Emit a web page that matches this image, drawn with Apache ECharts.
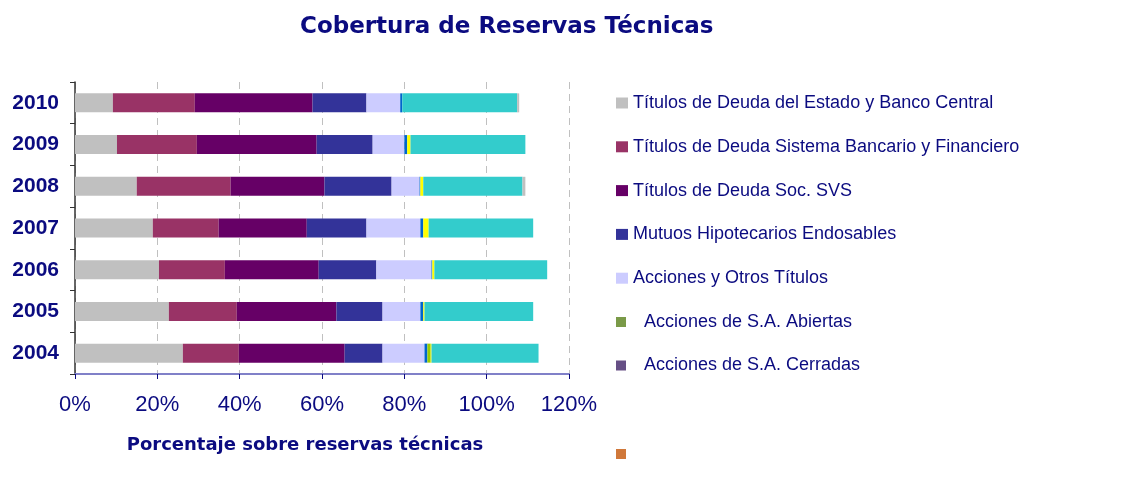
<!DOCTYPE html>
<html>
<head>
<meta charset="utf-8">
<title>Cobertura de Reservas Técnicas</title>
<script src="https://cdn.jsdelivr.net/npm/echarts@6/dist/echarts.min.js"></script>
<style>
    html, body { margin: 0; padding: 0; background: #fff; }
    #chart { width: 1135px; height: 485px; }
</style>
</head>
<body>
<div id="chart"></div>
<script>
// Years, bottom to top
const years = ["2004", "2005", "2006", "2007", "2008", "2009", "2010"];

// Share of technical reserves (%)
const estado = [26.2, 22.8, 20.4, 18.9, 15.0, 10.2, 9.2];
const bancario = [13.6, 16.5, 16.0, 16.0, 22.8, 19.4, 19.9];
const socSvs = [25.7, 24.2, 22.8, 21.4, 22.8, 29.1, 28.6];
const mutuos = [9.2, 11.2, 14.0, 14.5, 16.3, 13.6, 13.1];
const acciones = [10.2, 9.2, 13.4, 13.1, 6.8, 7.7, 8.2];
const abiertas = [0, 0, 0, 0, 0, 0, 0];
const cerradas = [0, 0, 0, 0, 0, 0, 0];
const sinNombre = [0, 0, 0, 0, 0, 0, 0];
// segments drawn in the bars but missing from the legend
const otroAzul = [0.7, 0.7, 0.2, 0.7, 0.2, 0.7, 0.5];
const otroVerde = [0.8, 0, 0, 0, 0, 0, 0];
const otroAmarillo = [0.2, 0.3, 0.5, 1.3, 0.7, 0.8, 0];
const otroCian = [26.0, 26.4, 27.4, 25.4, 24.1, 27.9, 27.9];
const otroGris = [0, 0, 0, 0, 0.7, 0, 0.5];

const xTicks = [0, 20, 40, 60, 80, 100, 120];

const navy = "#0b0b80";
const font = "'Liberation Sans', Arial, sans-serif";
const wideFont = "'DejaVu Sans', 'Liberation Sans', sans-serif";

const chart = echarts.init(document.getElementById("chart"));

function bar(name, data, color) {
    return {
        name: name,
        type: "bar",
        stack: "total",
        data: data,
        barWidth: 19,
        itemStyle: { color: color },
        emphasis: { disabled: true },
    };
}

const option = {
    animation: false,
    title: {
        text: "Cobertura de Reservas Técnicas",
        left: 295,
        top: 11,
        textStyle: { color: navy, fontSize: 23, fontWeight: "bold", fontFamily: wideFont },
    },
    legend: [
        {
            data: ["Títulos de Deuda del Estado y Banco Central", "Títulos de Deuda Sistema Bancario y Financiero",
                "Títulos de Deuda Soc. SVS", "Mutuos Hipotecarios Endosables", "Acciones y Otros Títulos"],
            orient: "vertical",
            left: 611,
            top: 89,
            icon: "rect",
            itemWidth: 12,
            itemHeight: 11,
            itemGap: 25.8,
            selectedMode: false,
            textStyle: { color: navy, fontSize: 18, fontFamily: font },
        },
        {
            data: ["Acciones de S.A. Abiertas", "Acciones de S.A. Cerradas"],
            orient: "vertical",
            left: 611,
            top: 308,
            icon: "rect",
            itemWidth: 10,
            itemHeight: 10,
            itemGap: 25.5,
            selectedMode: false,
            textStyle: { color: navy, fontSize: 18, fontFamily: font, padding: [0, 0, 0, 13] },
        },
        {
            data: [" "],
            left: 611,
            top: 440,
            icon: "rect",
            itemWidth: 10,
            itemHeight: 10,
            selectedMode: false,
            textStyle: { fontSize: 18 },
        },
    ],
    grid: { left: 75, right: 566, top: 82, bottom: 111 },
    xAxis: {
        type: "value",
        min: xTicks[0],
        max: xTicks[xTicks.length - 1],
        interval: 20,
        name: "Porcentaje sobre reservas técnicas",
        nameLocation: "middle",
        nameGap: 62,
        nameTextStyle: { color: navy, fontSize: 18, fontWeight: "bold", fontFamily: wideFont, padding: [0, 34, 0, 0] },
        axisLine: { show: true, lineStyle: { color: "#8080c8", width: 2 } },
        axisTick: { show: true, length: 5, lineStyle: { color: "#0b0b80" } },
        axisLabel: { color: navy, fontSize: 22, fontFamily: font, margin: 20, formatter: "{value}%" },
        splitLine: { show: true, lineStyle: { color: "#c0c0c0", type: [7, 5], width: 1 } },
    },
    yAxis: {
        type: "category",
        data: years,
        axisLine: { show: true, lineStyle: { color: "#333", width: 1.5 } },
        axisTick: { show: true, length: 5, lineStyle: { color: "#333" } },
        axisLabel: { color: navy, fontSize: 21, fontWeight: "bold", fontFamily: font, margin: 16 },
    },
    series: [
        bar("Títulos de Deuda del Estado y Banco Central", estado, "#c0c0c0"),
        bar("Títulos de Deuda Sistema Bancario y Financiero", bancario, "#993366"),
        bar("Títulos de Deuda Soc. SVS", socSvs, "#660066"),
        bar("Mutuos Hipotecarios Endosables", mutuos, "#333399"),
        bar("Acciones y Otros Títulos", acciones, "#ccccff"),
        bar("Acciones de S.A. Abiertas", abiertas, "#7a9a48"),
        bar("Acciones de S.A. Cerradas", cerradas, "#664f85"),
        bar(" ", sinNombre, "#d0783a"),
        bar("otro azul", otroAzul, "#0066cc"),
        bar("otro verde", otroVerde, "#99cc00"),
        bar("otro amarillo", otroAmarillo, "#ffff00"),
        bar("otro cian", otroCian, "#33cccc"),
        bar("otro gris", otroGris, "#c0c0c0"),
    ],
};

chart.setOption(option);
</script>
</body>
</html>
